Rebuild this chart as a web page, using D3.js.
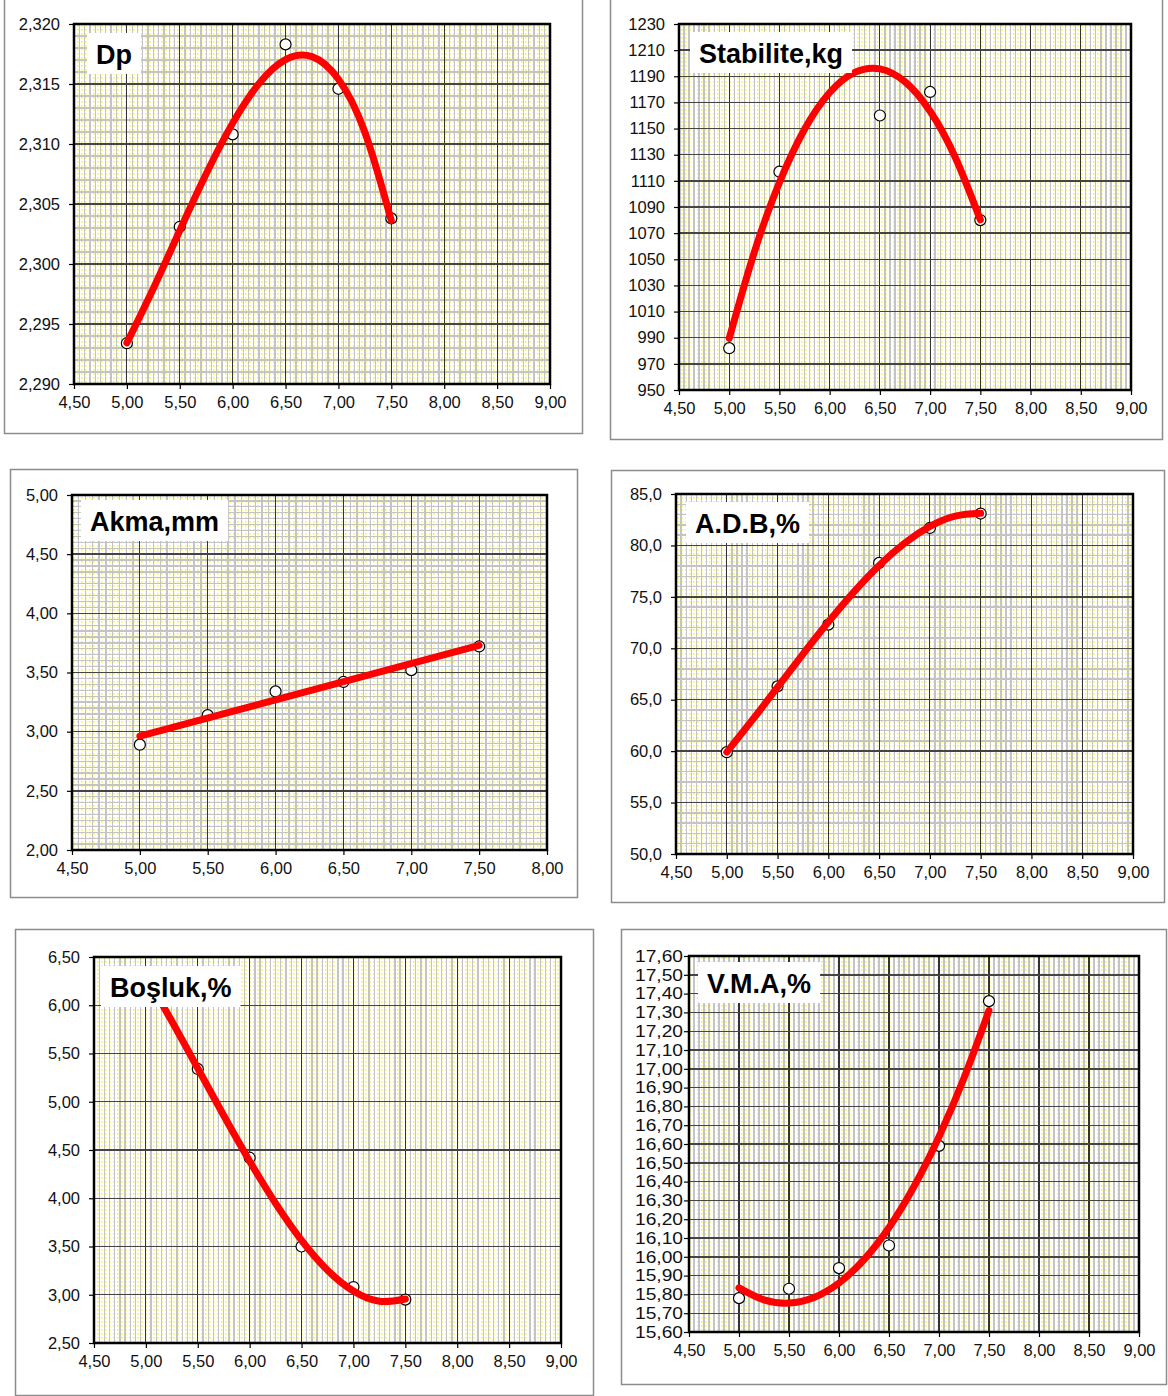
<!DOCTYPE html>
<html>
<head>
<meta charset="utf-8">
<script src="https://cdn.jsdelivr.net/npm/d3@7"></script>
<style>
  html, body { margin: 0; padding: 0; background: #fff; }
  svg { display: block; }
  text { font-family: "Liberation Sans", Arial, sans-serif; }
</style>
</head>
<body>
<svg id="chart" width="1168" height="1396"></svg>
<script>
// ---- measured binder contents (x: %) ----
const pointX = [5.00, 5.50, 6.00, 6.50, 7.00, 7.50];
const trendX = [5.00, 5.25, 5.50, 5.75, 6.00, 6.25, 6.50, 6.75, 7.00, 7.25, 7.50];

// Dp (unit weight)
const dpPoints = [2.2934, 2.3031, 2.3108, 2.3183, 2.3146, 2.3038];
const dpTrend  = [2.29343, 2.29796, 2.30279, 2.30752, 2.31174, 2.31505, 2.31703, 2.31728, 2.31540, 2.31098, 2.30361];
const dpYTicks = [2.290, 2.295, 2.300, 2.305, 2.310, 2.315, 2.320];

// Stabilite, kg
const stabPoints = [982, 1117, 1198, 1160, 1178, 1080];
const stabTrend  = [989.5, 1055.5, 1108.8, 1149.5, 1177.6, 1193.0, 1195.7, 1185.8, 1163.3, 1128.1, 1080.2];
const stabYTicks = [950, 970, 990, 1010, 1030, 1050, 1070, 1090, 1110, 1130, 1150, 1170, 1190, 1210, 1230];

// Akma, mm (linear trend)
const akmaPoints = [2.89, 3.14, 3.34, 3.42, 3.52, 3.72];
const akmaTrendX = [5.00, 7.50];
const akmaTrend  = [2.962, 3.730];
const akmaYTicks = [2.00, 2.50, 3.00, 3.50, 4.00, 4.50, 5.00];

// A.D.B, %
const adbPoints = [59.9, 66.3, 72.3, 78.3, 81.7, 83.1];
const adbTrend  = [59.91, 63.01, 66.22, 69.44, 72.55, 75.46, 78.05, 80.21, 81.85, 82.85, 83.12];
const adbYTicks = [50, 55, 60, 65, 70, 75, 80, 85];

// Boşluk, %
const bosPoints = [6.30, 5.34, 4.42, 3.50, 3.08, 2.95];
const bosTrend  = [6.300, 5.834, 5.346, 4.857, 4.384, 3.947, 3.564, 3.255, 3.038, 2.932, 2.956];
const bosYTicks = [2.50, 3.00, 3.50, 4.00, 4.50, 5.00, 5.50, 6.00, 6.50];

// V.M.A, %
const vmaPoints = [15.78, 15.83, 15.94, 16.06, 16.59, 17.36];
const vmaTrend  = [15.835, 15.771, 15.754, 15.784, 15.861, 15.985, 16.156, 16.374, 16.639, 16.951, 17.310];
const vmaYTicks = [15.60, 15.70, 15.80, 15.90, 16.00, 16.10, 16.20, 16.30, 16.40, 16.50, 16.60,
                   16.70, 16.80, 16.90, 17.00, 17.10, 17.20, 17.30, 17.40, 17.50, 17.60];

const xTicksWide = [4.50, 5.00, 5.50, 6.00, 6.50, 7.00, 7.50, 8.00, 8.50, 9.00];
const xTicksAkma = [4.50, 5.00, 5.50, 6.00, 6.50, 7.00, 7.50, 8.00];

// ---- number format with decimal comma ----
const loc = d3.formatLocale({ decimal: ",", thousands: ".", grouping: [3], currency: ["", ""] });

// ---- panel layout ----
const panels = [
  { title: "Dp", frame: [4, -5, 582, 433], plot: [74, 24, 550, 384],
    titlePos: [96, 64], xTicks: xTicksWide, yTicks: dpYTicks, yFmt: loc.format(".3f"),
    yMinorDiv: 5, points: dpPoints, tx: trendX, trend: dpTrend },
  { title: "Stabilite,kg", frame: [610, -5, 1162, 439], plot: [679, 24, 1131, 390],
    titlePos: [699, 63], xTicks: xTicksWide, yTicks: stabYTicks, yFmt: loc.format("d"),
    yMinorDiv: 1, points: stabPoints, tx: trendX, trend: stabTrend },
  { title: "Akma,mm", frame: [10, 469, 577, 897], plot: [72, 495, 547, 850],
    titlePos: [90, 531], xTicks: xTicksAkma, yTicks: akmaYTicks, yFmt: loc.format(".2f"),
    yMinorDiv: 10, points: akmaPoints, tx: akmaTrendX, trend: akmaTrend, linear: true },
  { title: "A.D.B,%", frame: [611, 470, 1164, 902], plot: [676, 494, 1133, 854],
    titlePos: [695, 533], xTicks: xTicksWide, yTicks: adbYTicks, yFmt: loc.format(".1f"),
    yMinorDiv: 5, points: adbPoints, tx: trendX, trend: adbTrend },
  { title: "Boşluk,%", frame: [15, 929, 593, 1395], plot: [94, 957, 561, 1343],
    titlePos: [110, 997], xTicks: xTicksWide, yTicks: bosYTicks, yFmt: loc.format(".2f"),
    yMinorDiv: 1, points: bosPoints, tx: trendX, trend: bosTrend },
  { title: "V.M.A,%", frame: [621, 929, 1166, 1384], plot: [689, 956, 1139, 1332],
    titlePos: [707, 993], xTicks: xTicksWide, yTicks: vmaYTicks, yFmt: loc.format(".2f"),
    yMinorDiv: 1, points: vmaPoints, tx: trendX, trend: vmaTrend, yLabelWidth: 48, yPad: 1 }
];

const svg = d3.select("#chart");
const defs = svg.append("defs");

// dotted paper fill of the plot areas
const pat = defs.append("pattern").attr("id", "dots")
  .attr("patternUnits", "userSpaceOnUse").attr("width", 4).attr("height", 4);
pat.append("rect").attr("width", 4).attr("height", 4).attr("fill", "#fff");
pat.append("rect").attr("x", 1).attr("y", 1).attr("width", 1.6).attr("height", 1.6).attr("fill", "#ffff00");

panels.forEach((p, i) => {
  const g = svg.append("g");
  const [px0, py0, px1, py1] = p.plot;
  const xs = p.xTicks, ys = p.yTicks;
  const x = d3.scaleLinear().domain([xs[0], xs[xs.length - 1]]).range([px0, px1]);
  const y = d3.scaleLinear().domain([ys[0], ys[ys.length - 1]]).range([py1, py0]);

  // chart frame
  g.append("rect")
    .attr("x", p.frame[0] + 0.5).attr("y", p.frame[1] + 0.5)
    .attr("width", p.frame[2] - p.frame[0]).attr("height", p.frame[3] - p.frame[1])
    .attr("fill", "#fff").attr("stroke", "#8c8c8c").attr("stroke-width", 1.5);

  const clipId = "clip" + i;
  defs.append("clipPath").attr("id", clipId).append("rect")
    .attr("x", px0).attr("y", py0).attr("width", px1 - px0).attr("height", py1 - py0);

  g.append("rect").attr("x", px0).attr("y", py0)
    .attr("width", px1 - px0).attr("height", py1 - py0).attr("fill", "url(#dots)");

  // minor grid: ten vertical divisions per x step, panel-specific horizontal divisions
  const xStep = xs[1] - xs[0];
  const xMinor = d3.range(0, (xs.length - 1) * 10 + 1).map(k => xs[0] + k * xStep / 10)
    .filter((v, k) => k % 10 !== 0);
  const yStep = ys[1] - ys[0];
  const yMinor = p.yMinorDiv > 1
    ? d3.range(0, (ys.length - 1) * p.yMinorDiv + 1).filter(k => k % p.yMinorDiv !== 0)
        .map(k => ys[0] + k * yStep / p.yMinorDiv)
    : [];

  const grid = g.append("g").attr("shape-rendering", "crispEdges");
  grid.selectAll("line.vmin").data(xMinor).join("line")
    .attr("x1", d => x(d)).attr("x2", d => x(d)).attr("y1", py0).attr("y2", py1)
    .attr("stroke", "#c4c4c4").attr("stroke-width", 1.3);
  grid.selectAll("line.hmin").data(yMinor).join("line")
    .attr("x1", px0).attr("x2", px1).attr("y1", d => y(d)).attr("y2", d => y(d))
    .attr("stroke", "#c4c4c4").attr("stroke-width", 1.3);
  grid.selectAll("line.vmaj").data(xs).join("line")
    .attr("x1", d => x(d)).attr("x2", d => x(d)).attr("y1", py0).attr("y2", py1)
    .attr("stroke", "#333").attr("stroke-width", 1.2);
  grid.selectAll("line.hmaj").data(ys).join("line")
    .attr("x1", px0).attr("x2", px1).attr("y1", d => y(d)).attr("y2", d => y(d))
    .attr("stroke", "#444").attr("stroke-width", 1.4);

  // measured points
  const body = g.append("g").attr("clip-path", `url(#${clipId})`);
  body.selectAll("circle").data(pointX.map((v, k) => [v, p.points[k]])).join("circle")
    .attr("cx", d => x(d[0])).attr("cy", d => y(d[1])).attr("r", 5.5)
    .attr("fill", "#fff").attr("stroke", "#000").attr("stroke-width", 1.2);

  // trend line
  const line = d3.line().x(d => x(d[0])).y(d => y(d[1]))
    .curve(p.linear ? d3.curveLinear : d3.curveNatural);
  body.append("path").datum(p.tx.map((v, k) => [v, p.trend[k]]))
    .attr("d", line).attr("fill", "none").attr("stroke", "#ff0000")
    .attr("stroke-width", 7).attr("stroke-linecap", "round").attr("stroke-linejoin", "round");

  // plot border
  g.append("rect").attr("x", px0).attr("y", py0)
    .attr("width", px1 - px0).attr("height", py1 - py0)
    .attr("fill", "none").attr("stroke", "#000").attr("stroke-width", 2.5);

  // axes
  const ax = g.append("g").attr("transform", `translate(0,${py1})`)
    .call(d3.axisBottom(x).tickValues(xs).tickFormat(loc.format(".2f")).tickSize(5).tickPadding(7));
  const ay = g.append("g").attr("transform", `translate(${px0},0)`)
    .call(d3.axisLeft(y).tickValues(ys).tickFormat(p.yFmt).tickSize(5).tickPadding(p.yPad != null ? p.yPad : 9));
  [ax, ay].forEach(a => {
    a.select(".domain").remove();
    a.selectAll(".tick line").attr("stroke", "#000").attr("stroke-width", 1.2);
    a.selectAll(".tick text").attr("fill", "#111").style("font-size", "16.5px")
      .style("font-family", '"Liberation Sans", Arial, sans-serif');
  });
  if (p.yLabelWidth) {
    ay.selectAll(".tick text").attr("textLength", p.yLabelWidth).attr("lengthAdjust", "spacingAndGlyphs");
  }

  // title label on white box
  const tg = g.append("g");
  const box = tg.append("rect").attr("fill", "#fff");
  const tt = tg.append("text").attr("x", p.titlePos[0]).attr("y", p.titlePos[1])
    .attr("font-size", 27).attr("font-weight", "bold").attr("fill", "#000").text(p.title);
  const w = tt.node().getComputedTextLength();
  box.attr("x", p.titlePos[0] - 9).attr("y", p.titlePos[1] - 31)
    .attr("width", w + 18).attr("height", 41);
});
</script>
</body>
</html>
